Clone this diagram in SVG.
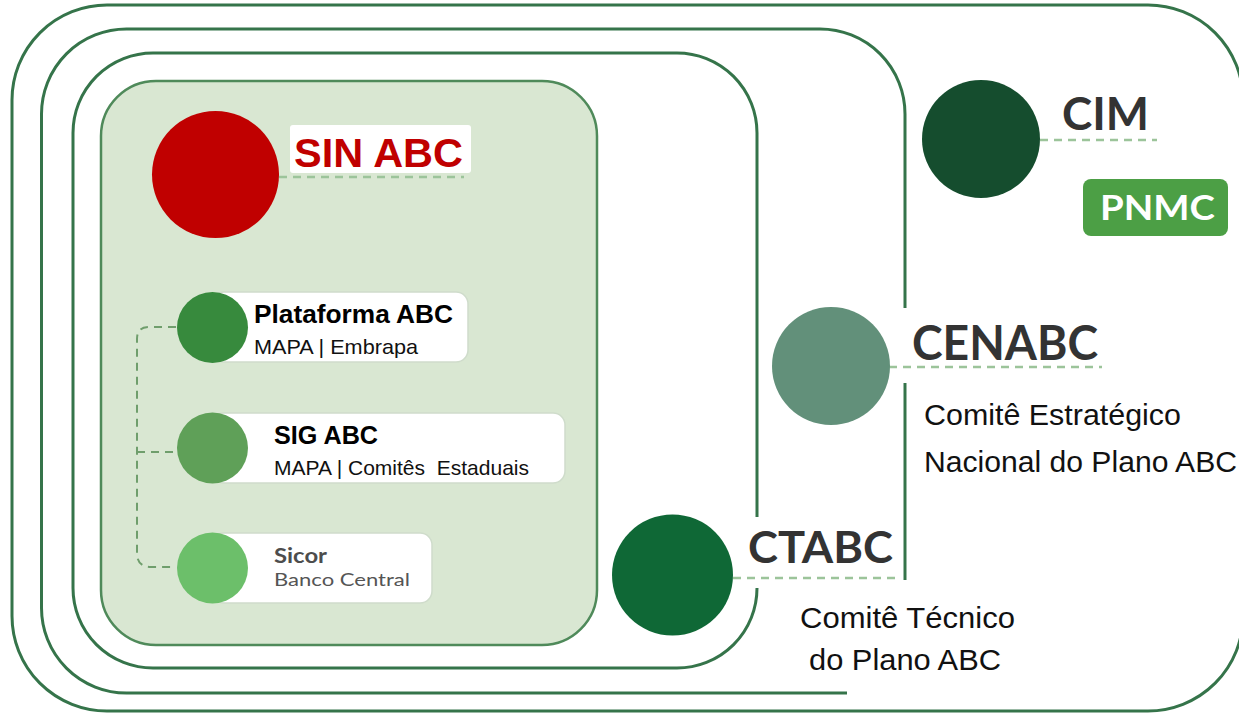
<svg xmlns="http://www.w3.org/2000/svg" width="1239" height="715" viewBox="0 0 1239 715">
<style>
.frame{fill:none;stroke:#35744a;stroke-width:3}
.dash{fill:none;stroke:#9cc49a;stroke-width:2.5;stroke-dasharray:8 6}
.tree{fill:none;stroke:#6f9e6c;stroke-width:2;stroke-dasharray:8 6}
.card{fill:#fff;stroke:#cfdccb;stroke-width:1.5}
.sans{font-family:"Liberation Sans",Arial,sans-serif}
.lato{font-family:Lato,"Open Sans",sans-serif;font-weight:bold}
.b{font-weight:bold}
</style>
<rect width="1239" height="715" fill="#fff"/>
<g id="frames">
<rect class="frame" x="12" y="5" width="1231" height="706" rx="95"/>
<path class="frame" d="M905,308 L905,114 A85,85 0 0 0 820,29 L126.5,29 A85,85 0 0 0 41.5,114 L41.5,608 A85,85 0 0 0 126.5,693 L847,693"/>
<path class="frame" d="M905,383 L905,580"/>
<path class="frame" d="M757,517 L757,133 A80,80 0 0 0 677,53 L153,53 A80,80 0 0 0 73,133 L73,588 A80,80 0 0 0 153,668 L677,668 A80,80 0 0 0 757,588"/>
<rect x="101" y="81" width="496" height="564" rx="55" fill="#d9e7d2" stroke="#4f8a5a" stroke-width="2.5"/>
</g>
<g id="connectors">
<path class="dash" d="M279,177 L464,177"/>
<path class="dash" d="M1040,140 L1157,140"/>
<path class="dash" d="M889,367 L1102,367"/>
<path class="dash" d="M733,578 L897,578"/>
<path class="tree" d="M176,327 L149,327 Q137,327 137,339 L137,553 Q137,567 151,567 L176,567"/>
<path class="tree" d="M137,452 L176,452"/>
</g>
<g id="sinabc">
<circle cx="215.5" cy="174.5" r="63.5" fill="#c00000"/>
<rect x="290" y="125" width="181" height="48" rx="3" fill="#fff"/>
<text class="sans b" x="294" y="167" font-size="40" fill="#c00000" textLength="169" lengthAdjust="spacingAndGlyphs">SIN ABC</text>
</g>
<g id="plataforma">
<rect class="card" x="212" y="292" width="256" height="70" rx="12"/>
<circle cx="212.5" cy="327.5" r="35.5" fill="#378a3d"/>
<text class="sans b" x="254" y="322.5" font-size="25" fill="#000" textLength="199" lengthAdjust="spacingAndGlyphs">Plataforma ABC</text>
<text class="sans" x="254" y="354" font-size="21" fill="#111" textLength="164" lengthAdjust="spacingAndGlyphs">MAPA | Embrapa</text>
</g>
<g id="sigabc">
<rect class="card" x="212" y="413" width="353" height="70" rx="12"/>
<circle cx="212.5" cy="448" r="35.5" fill="#5fa058"/>
<text class="sans b" x="274" y="444" font-size="25" fill="#000" textLength="104" lengthAdjust="spacingAndGlyphs">SIG ABC</text>
<text class="sans" x="274" y="475" font-size="21" fill="#111" textLength="255" lengthAdjust="spacingAndGlyphs" xml:space="preserve">MAPA | Comitês  Estaduais</text>
</g>
<g id="sicor">
<rect class="card" x="212" y="533" width="220" height="70" rx="12"/>
<circle cx="212.5" cy="568" r="35.5" fill="#6cbf6a"/>
<text class="lato" x="274" y="563" font-size="20" fill="#4d4d4d" textLength="53" lengthAdjust="spacingAndGlyphs">Sicor</text>
<text font-family="Lato,'Open Sans',sans-serif" x="274" y="586" font-size="18" fill="#555" textLength="136" lengthAdjust="spacingAndGlyphs">Banco Central</text>
</g>
<g id="cim">
<circle cx="981" cy="139" r="59" fill="#154d2e"/>
<text class="lato" x="1062" y="130" font-size="46" fill="#333" textLength="87" lengthAdjust="spacingAndGlyphs">CIM</text>
</g>
<g id="pnmc">
<rect x="1083" y="179" width="145" height="57" rx="8" fill="#4c9f45"/>
<text class="lato" x="1100" y="220" font-size="35" fill="#fff" textLength="115" lengthAdjust="spacingAndGlyphs">PNMC</text>
</g>
<g id="cenabc">
<circle cx="831" cy="366" r="59" fill="#62907a"/>
<text class="lato" x="912" y="360" font-size="47" fill="#333" textLength="186" lengthAdjust="spacingAndGlyphs">CENABC</text>
<text class="sans" x="924" y="425" font-size="30" fill="#111" textLength="257" lengthAdjust="spacingAndGlyphs">Comitê Estratégico</text>
<text class="sans" x="924" y="472" font-size="30" fill="#111" textLength="313" lengthAdjust="spacingAndGlyphs">Nacional do Plano ABC</text>
</g>
<g id="ctabc">
<circle cx="672.5" cy="575" r="60.5" fill="#0f6836"/>
<text class="lato" x="748" y="563" font-size="44" fill="#333" textLength="145" lengthAdjust="spacingAndGlyphs">CTABC</text>
<text class="sans" x="800" y="628" font-size="30" fill="#111" textLength="215" lengthAdjust="spacingAndGlyphs">Comitê Técnico</text>
<text class="sans" x="809" y="670" font-size="30" fill="#111" textLength="192" lengthAdjust="spacingAndGlyphs">do Plano ABC</text>
</g>
</svg>
